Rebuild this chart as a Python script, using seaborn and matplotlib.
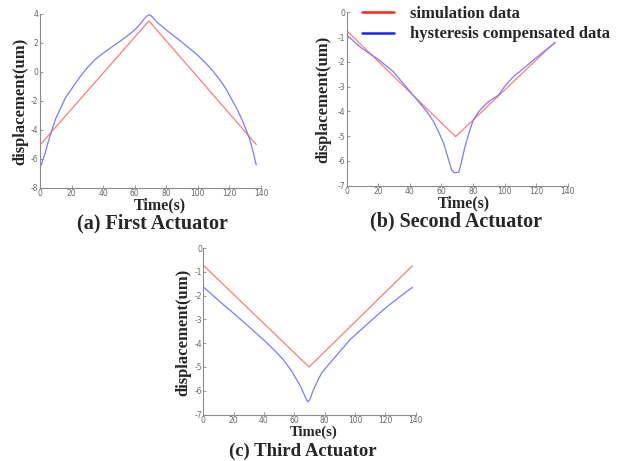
import numpy as np
import pandas as pd
import matplotlib
matplotlib.use("Agg")
import matplotlib.pyplot as plt
from matplotlib.lines import Line2D
import seaborn as sns

# ---------------- data ----------------
# (a) First Actuator
a_sim_t = [0.5, 69, 137]
a_sim_y = [-4.97, 3.52, -5.0]
a_hys_t = [0.8, 3, 5, 7.2, 10, 13.5, 16, 18.8, 22, 26.2, 30, 34.6, 40, 47.3, 54, 60, 63, 66.3, 68, 69.5, 71, 73.7, 80, 90, 100, 106, 110, 114, 118, 121, 125, 128, 131, 133, 135, 137]
a_hys_y = [-6.41, -5.7, -4.9, -4.11, -3.2, -2.39, -1.8, -1.36, -0.85, -0.21, 0.3, 0.83, 1.3, 1.86, 2.38, 2.9, 3.25, 3.7, 3.88, 3.95, 3.82, 3.47, 2.9, 2.05, 1.15, 0.5, 0.0, -0.55, -1.2, -1.8, -2.6, -3.3, -4.1, -4.7, -5.5, -6.41]

# (b) Second Actuator
b_sim_t = [0, 69, 132]
b_sim_y = [-0.74, -5.02, -1.2]
b_hys_t = [0, 9.5, 20, 29.6, 42, 50, 55, 59.1, 61.5, 63.3, 65, 66.5, 68, 69.7, 71, 72.5, 74.9, 77.5, 80.2, 84, 88.7, 92, 96, 100, 105.5, 112, 118.2, 125, 132]
b_hys_y = [-0.92, -1.45, -1.9, -2.4, -3.34, -3.95, -4.4, -4.95, -5.3, -5.69, -6.05, -6.37, -6.47, -6.47, -6.45, -6.1, -5.43, -4.85, -4.35, -3.98, -3.67, -3.52, -3.35, -3.0, -2.6, -2.27, -1.93, -1.58, -1.23]

# (c) Third Actuator
c_sim_t = [0.4, 69.7, 137.8]
c_sim_y = [-0.74, -5.0, -0.74]
c_hys_t = [0.4, 10, 19.8, 30, 39.6, 47, 52.7, 58, 61.5, 64, 66, 67.5, 68.8, 70.3, 72, 74.7, 78, 83.5, 90, 96.7, 108, 118.7, 128, 137.8]
c_hys_y = [-1.65, -2.2, -2.73, -3.3, -3.85, -4.3, -4.69, -5.15, -5.53, -5.8, -6.09, -6.3, -6.47, -6.37, -6.05, -5.67, -5.25, -4.83, -4.35, -3.85, -3.2, -2.59, -2.12, -1.65]

x_ticks = [0, 20, 40, 60, 80, 100, 120, 140]
a_yticks = [-8, -6, -4, -2, 0, 2, 4]
b_yticks = [-7, -6, -5, -4, -3, -2, -1, 0]
c_yticks = [-7, -6, -5, -4, -3, -2, -1, 0]

legend_labels = ["simulation data", "hysteresis compensated data"]
captions = ["(a) First Actuator", "(b) Second Actuator", "(c) Third Actuator"]
xlabel = "Time(s)"
ylabel = "displacement(um)"

# ---------------- style ----------------
sns.set_style("white")
plt.rcParams["font.family"] = ["DejaVu Sans"]
plt.rcParams["axes.unicode_minus"] = False
serif = "Liberation Serif"
SIM_C = "#ff7a7a"
HYS_C = "#7a7aff"
AX_C = "#8a8a8a"

fig = plt.figure(figsize=(6.29, 4.61), dpi=100)
W, H = 629, 461


def add_axes(l, r, t, b):
    return fig.add_axes([l / W, 1 - b / H, (r - l) / W, (b - t) / H])


def draw(ax, st, sy, ht, hy, yticks, ylim):
    d1 = pd.DataFrame({"t": st, "y": sy})
    d2 = pd.DataFrame({"t": ht, "y": hy})
    sns.lineplot(data=d1, x="t", y="y", ax=ax, color=SIM_C, lw=0.9)
    sns.lineplot(data=d2, x="t", y="y", ax=ax, color=HYS_C, lw=0.9)
    ax.set_xlim(0, 140)
    ax.set_ylim(*ylim)
    ax.set_xticks(x_ticks)
    ax.set_yticks(yticks)
    ax.set_xlabel("")
    ax.set_ylabel("")
    for s in ["top", "right"]:
        ax.spines[s].set_visible(False)
    for s in ["left", "bottom"]:
        ax.spines[s].set_color(AX_C)
        ax.spines[s].set_linewidth(0.8)
    ax.tick_params(direction="in", length=2.5, width=0.6, colors=AX_C,
                   labelsize=5.5, labelcolor="#666666", pad=1.0,
                   left=True, bottom=True)


ax_a = add_axes(40, 261, 14, 188)
draw(ax_a, a_sim_t, a_sim_y, a_hys_t, a_hys_y, a_yticks, (-8, 4))
ax_b = add_axes(346.7, 567.7, 12.3, 185.7)
draw(ax_b, b_sim_t, b_sim_y, b_hys_t, b_hys_y, b_yticks, (-7, 0))
ax_c = add_axes(203.3, 415.7, 248.2, 414.5)
draw(ax_c, c_sim_t, c_sim_y, c_hys_t, c_hys_y, c_yticks, (-7, 0))

lab_font = dict(family=serif, weight="bold", fontsize=12)

# labels (figure coords in pixels)
for (ylx, yly, tx, ty, tsz, cx, cy, csz, cap) in [
    (20, 101, 160, 205.5, 11.5, 152, 223, 14.5, captions[0]),
    (323, 99, 464, 203.5, 11.5, 456, 221, 14.5, captions[1]),
    (183, 332, 314, 432.6, 10.5, 303, 451, 13.5, captions[2]),
]:
    fig.text(ylx / W, 1 - yly / H, ylabel, rotation=90, ha="center", va="center", **lab_font)
    fig.text(tx / W, 1 - ty / H, xlabel, ha="center", va="center",
             family=serif, weight="bold", fontsize=tsz)
    fig.text(cx / W, 1 - cy / H, cap, ha="center", va="center",
             family=serif, weight="bold", fontsize=csz)

handles = [Line2D([], [], color="#ff2020", lw=1.8), Line2D([], [], color="#2020ff", lw=1.8)]
ax_b.legend(handles, legend_labels, loc="upper left",
            bbox_to_anchor=(362 / W, 1 - 5.5 / H), bbox_transform=fig.transFigure,
            frameon=False, borderpad=0, borderaxespad=0, handlelength=1.9,
            handletextpad=1.0, labelspacing=0.3,
            prop=dict(family=serif, weight="bold", size=12))

fig.savefig("out.png", dpi=100)
